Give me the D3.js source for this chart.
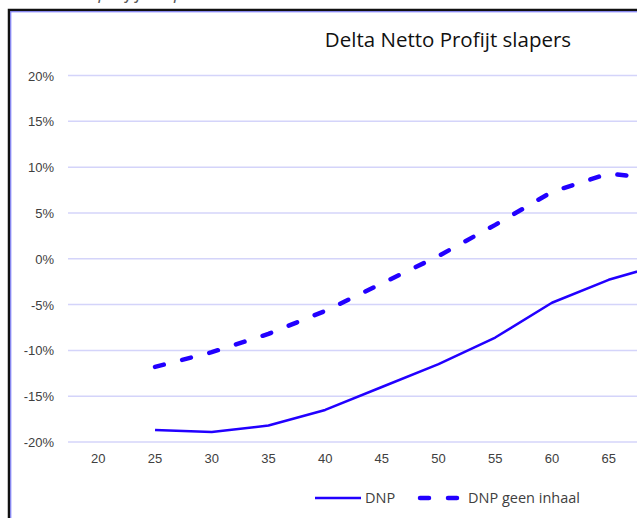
<!DOCTYPE html>
<html lang="nl">
<head>
<meta charset="utf-8" />
<title>Delta Netto Profijt slapers</title>
<style>
  body { margin: 0; padding: 0; background: #fff; font-family: "Open Sans", "Noto Sans", sans-serif; }
  #chart { width: 637px; height: 518px; overflow: hidden; }
  .tick text { fill: #404040; font-size: 13px; }
</style>
</head>
<body>
<div id="chart"></div>
<script src="https://d3js.org/d3.v7.min.js"></script>
<script>
// ages on the category axis
const ages = [20, 25, 30, 35, 40, 45, 50, 55, 60, 65, 70];
// only these labels fall inside the visible window
const ageLabels = [20, 25, 30, 35, 40, 45, 50, 55, 60, 65];
// delta netto profijt in percent, null where no value
const dnp = [null, -18.7, -18.9, -18.2, -16.5, -14.0, -11.5, -8.6, -4.8, -2.3, -0.5];
const dnpGeenInhaal = [null, -11.8, -10.2, -8.2, -5.7, -2.7, 0.3, 3.7, 7.3, 9.3, 8.6];
const yTicks = [-20, -15, -10, -5, 0, 5, 10, 15, 20];

const W = 637, H = 518;
const blue = '#2200ff';

const svg = d3.select('#chart').append('svg')
    .attr('width', W)
    .attr('height', H);

// cut-off caption above the frame, only its descenders show
svg.append('text')
    .attr('x', 4)
    .attr('y', -1.5)
    .attr('font-size', 18)
    .attr('font-style', 'italic')
    .attr('fill', '#595959')
    .text('Delta Netto profijt slapers');

// chart frame (only left and top edges visible)
svg.append('rect')
    .attr('x', 9).attr('y', 10)
    .attr('width', 700).attr('height', 600)
    .attr('fill', 'none')
    .attr('stroke', '#111')
    .attr('stroke-width', 2.5);
svg.append('rect')
    .attr('x', 10.8).attr('y', 11.8)
    .attr('width', 700).attr('height', 600)
    .attr('fill', 'none')
    .attr('stroke', '#7070ff')
    .attr('stroke-width', 1);

const x = d3.scaleBand()
    .domain(ages)
    .range([70, 70 + 56.7 * ages.length]);

const y = d3.scaleLinear()
    .domain([-20, 20])
    .range([442, 75.5]);

// gridlines
svg.append('g')
    .selectAll('line')
    .data(yTicks)
    .enter().append('line')
    .attr('x1', 68)
    .attr('x2', W)
    .attr('y1', d => y(d))
    .attr('y2', d => y(d))
    .attr('stroke', '#d4d4fa')
    .attr('stroke-width', 1.5);

// y axis labels
const yAxis = svg.append('g')
    .attr('transform', 'translate(54,0)')
    .call(d3.axisLeft(y).tickValues(yTicks).tickSize(0).tickPadding(0)
      .tickFormat(d => d + '%'));
yAxis.select('.domain').remove();
yAxis.selectAll('text').attr('dy', '0.35em');

// x axis labels
const xAxis = svg.append('g')
    .attr('transform', 'translate(0,454)')
    .call(d3.axisBottom(x).tickValues(ageLabels).tickSize(0).tickPadding(0));
xAxis.select('.domain').remove();
xAxis.selectAll('text').attr('dy', '0.71em');

// title
svg.append('text')
    .attr('x', 448)
    .attr('y', 47)
    .attr('text-anchor', 'middle')
    .attr('font-size', 20.5)
    .attr('fill', '#111')
    .text('Delta Netto Profijt slapers');

const line = d3.line()
    .defined(d => d[1] !== null)
    .x(d => x(d[0]) + x.bandwidth() / 2)
    .y(d => y(d[1]));

svg.append('path')
    .datum(ages.map((a, i) => [a, dnp[i]]))
    .attr('d', line)
    .attr('fill', 'none')
    .attr('stroke', blue)
    .attr('stroke-width', 2.5)
    .attr('stroke-linejoin', 'round');

svg.append('path')
    .datum(ages.map((a, i) => [a, dnpGeenInhaal[i]]))
    .attr('d', line)
    .attr('fill', 'none')
    .attr('stroke', blue)
    .attr('stroke-width', 4.5)
    .attr('stroke-linecap', 'round')
    .attr('stroke-dasharray', '9,19');

// legend
const legend = svg.append('g').attr('transform', 'translate(0,498)');
legend.append('line')
    .attr('x1', 315).attr('x2', 361)
    .attr('stroke', blue).attr('stroke-width', 2.5);
legend.append('text')
    .attr('x', 365).attr('dy', '0.35em')
    .attr('font-size', 14.5).attr('fill', '#404040')
    .text('DNP');
legend.append('line')
    .attr('x1', 420).attr('x2', 462)
    .attr('stroke', blue).attr('stroke-width', 4.5)
    .attr('stroke-linecap', 'round')
    .attr('stroke-dasharray', '9,19');
legend.append('text')
    .attr('x', 468).attr('dy', '0.35em')
    .attr('font-size', 14.5).attr('fill', '#404040')
    .text('DNP geen inhaal');
</script>
</body>
</html>
